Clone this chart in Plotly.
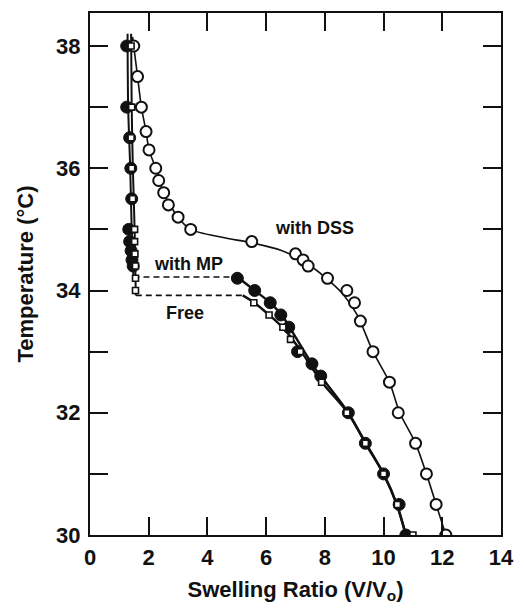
import plotly.graph_objects as go

# ---------------- data ----------------
# with DSS (open circles)
dss_ratio = [1.49, 1.62, 1.75, 1.91, 2.01, 2.24, 2.34, 2.51, 2.67, 3.00, 3.43,
             5.51, 7.00, 7.26, 7.43, 8.09, 8.75, 9.01, 9.21, 9.64, 10.20, 10.50,
             11.09, 11.46, 11.79, 12.12]
dss_temp = [38.0, 37.5, 37.0, 36.6, 36.3, 36.0, 35.8, 35.6, 35.4, 35.2, 35.0,
            34.8, 34.6, 34.5, 34.4, 34.2, 34.0, 33.8, 33.5, 33.0, 32.5, 32.0,
            31.5, 31.0, 30.5, 30.0]
# fitted curve for DSS
dss_fit_ratio = [1.45, 1.49, 1.62, 1.75, 1.91, 2.01, 2.24, 2.51, 3.00, 3.43, 4.5,
                 5.51, 6.5, 7.3, 8.0, 8.6, 9.1, 9.64, 10.20, 10.55, 11.09, 11.46, 11.79, 12.12]
dss_fit_temp = [38.15, 38.0, 37.5, 37.0, 36.6, 36.3, 36.0, 35.6, 35.2, 35.0, 34.87,
                34.78, 34.66, 34.47, 34.22, 33.95, 33.6, 33.0, 32.5, 32.0, 31.5, 31.0, 30.5, 30.0]

# with MP (filled circles)
mp_ratio = [1.25, 1.25, 1.35, 1.39, 1.42, 1.32, 1.35, 1.40, 1.43, 1.47,
            5.02, 5.61, 6.14, 6.50, 6.77, 7.07, 7.56, 7.86, 8.80, 9.38, 10.00, 10.53, 10.76]
mp_temp = [38.0, 37.0, 36.5, 36.0, 35.5, 35.0, 34.8, 34.65, 34.5, 34.4,
           34.2, 34.0, 33.8, 33.6, 33.4, 33.0, 32.8, 32.6, 32.0, 31.5, 31.0, 30.5, 30.0]
mp_upper_ratio = [1.28, 1.30, 1.37, 1.42, 1.46, 1.48]
mp_upper_temp = [38.2, 37.0, 36.0, 35.0, 34.5, 34.22]
mp_jump_ratio = [1.48, 5.02]
mp_jump_temp = [34.22, 34.22]
mp_lower_ratio = [5.02, 5.61, 6.14, 6.60, 7.05, 7.56, 7.86, 8.80, 9.38, 10.00, 10.45, 10.76]
mp_lower_temp = [34.22, 34.0, 33.8, 33.55, 33.2, 32.8, 32.6, 32.0, 31.5, 31.0, 30.5, 30.0]

# Free (small open squares)
free_ratio = [1.40, 1.42, 1.40, 1.42, 1.45, 1.52, 1.52, 1.53, 1.55, 1.55, 1.55,
              5.58, 6.10, 6.57, 6.83, 7.16, 7.89, 8.75, 9.38, 10.00, 10.47, 11.00]
free_temp = [38.0, 37.0, 36.5, 36.0, 35.5, 35.0, 34.8, 34.6, 34.4, 34.2, 34.0,
             33.8, 33.6, 33.4, 33.2, 33.0, 32.5, 32.0, 31.5, 31.0, 30.5, 30.0]
free_upper_ratio = [1.40, 1.42, 1.46, 1.52, 1.56]
free_upper_temp = [38.2, 37.0, 36.0, 35.0, 33.92]
free_jump_ratio = [1.56, 5.2]
free_jump_temp = [33.92, 33.92]
free_lower_ratio = [5.2, 5.6, 6.1, 6.55, 6.9, 7.2, 7.9, 8.78, 9.4, 10.0, 10.45, 10.76]
free_lower_temp = [33.92, 33.8, 33.6, 33.4, 33.2, 33.0, 32.5, 32.0, 31.5, 31.0, 30.5, 30.0]

x_ticks = [0, 2, 4, 6, 8, 10, 12, 14]
y_ticks = [30, 32, 34, 36, 38]
y_minor_ticks = [31, 33, 35, 37]

FONT = "Liberation Sans, Arial, Helvetica, sans-serif"
BLACK = "#111111"

fig = go.Figure()

def line(x, y, width, dash="solid", shape="spline"):
    fig.add_trace(go.Scatter(x=x, y=y, mode="lines",
                             line=dict(color=BLACK, width=width, dash=dash, shape=shape,
                                       smoothing=0.8),
                             hoverinfo="skip", showlegend=False))

# curves
line(dss_fit_ratio, dss_fit_temp, 1.6)
line(mp_upper_ratio, mp_upper_temp, 2)
line(free_upper_ratio, free_upper_temp, 2)
line(mp_jump_ratio, mp_jump_temp, 1.6, dash="6px,4px", shape="linear")
line(free_jump_ratio, free_jump_temp, 1.6, dash="6px,4px", shape="linear")
line(mp_lower_ratio, mp_lower_temp, 2.4)
line(free_lower_ratio, free_lower_temp, 2.4)

# markers
fig.add_trace(go.Scatter(x=dss_ratio, y=dss_temp, mode="markers", name="with DSS",
                         marker=dict(symbol="circle", size=11, color="white",
                                     line=dict(color=BLACK, width=2)),
                         showlegend=False))
fig.add_trace(go.Scatter(x=mp_ratio, y=mp_temp, mode="markers", name="with MP",
                         marker=dict(symbol="circle", size=12, color=BLACK,
                                     line=dict(color=BLACK, width=1)),
                         showlegend=False))
fig.add_trace(go.Scatter(x=free_ratio, y=free_temp, mode="markers", name="Free",
                         marker=dict(symbol="square", size=6, color="white",
                                     line=dict(color=BLACK, width=1.6)),
                         showlegend=False))

ann_font = dict(family=FONT, size=18, color=BLACK, weight="bold")
fig.add_annotation(x=7.63, y=35.03, text="with DSS", showarrow=False, font=ann_font)
fig.add_annotation(x=3.37, y=34.43, text="with MP", showarrow=False, font=ann_font)
fig.add_annotation(x=3.23, y=33.64, text="Free", showarrow=False, font=ann_font)

axis_common = dict(showline=True, linecolor=BLACK, linewidth=2, mirror="allticks",
                   ticks="inside", ticklen=18, tickwidth=2, tickcolor=BLACK,
                   showgrid=False, zeroline=False,
                   tickfont=dict(family=FONT, size=22, color=BLACK, weight="bold"))

fig.update_xaxes(range=[0, 14], tickvals=x_ticks, ticklabelstandoff=2,
                 title=dict(text="Swelling Ratio (V/V<sub>o</sub>)", standoff=12,
                            font=dict(family=FONT, size=22, color=BLACK, weight="bold")),
                 **axis_common)
fig.update_yaxes(range=[30, 38.54], tickvals=y_ticks, ticklabelstandoff=3,
                 minor=dict(tickvals=y_minor_ticks, ticks="inside", ticklen=18,
                            tickwidth=2, tickcolor=BLACK, showgrid=False),
                 title=dict(text="Temperature (°C)", standoff=16,
                            font=dict(family=FONT, size=22, color=BLACK, weight="bold")),
                 **axis_common)

fig.update_layout(width=525, height=609, plot_bgcolor="white", paper_bgcolor="white",
                  margin=dict(l=90, r=11, t=13, b=72), showlegend=False)

fig.write_html("out.html")
